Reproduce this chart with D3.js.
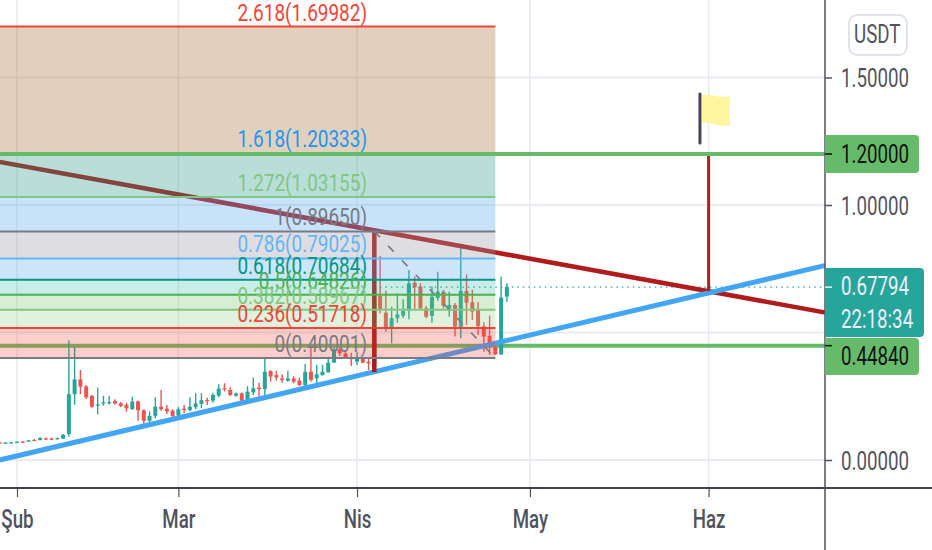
<!DOCTYPE html>
<html>
<head>
<meta charset="utf-8">
<script src="https://cdn.jsdelivr.net/npm/d3@7"></script>
<style>
  body { margin: 0; background: #fff; }
  text { font-family: Roboto, sans-serif; }
</style>
</head>
<body>
<div id="chart"></div>
<script>
var svgWidth = 932;
var svgHeight = 550;
var plotRight = 825;
var plotBottom = 488;

// daily candles, 29 Jan to 27 Apr
var startDay = "2019-01-29";
var opens = [.069,.066,.068,
  .070,.072,.072,.079,.078,.085,.084,.082,.084,.102,
  .258,.316,.288,.251,.213,.221,.224,.231,.222,.216,
  .200,.230,.195,.154,.173,.209,.201,.193,
  .175,.201,.196,.207,.220,.235,.233,.252,.281,.275,
  .252,.261,.235,.265,.284,.278,.349,.333,.320,.311,
  .320,.311,.294,.346,.320,.333,.344,.382,.434,.418,.400,
  .386,.396,.385,.379,.643,.578,.520,.556,.566,.585,
  .695,.680,.595,.565,.635,.660,.595,.608,.520,.663,
  .618,.588,.525,.487,.444,.414,.641];
var closes = [.067,.068,.069,
  .071,.071,.077,.078,.086,.083,.082,.086,.099,.258,
  .316,.288,.246,.209,.218,.226,.227,.222,.212,.203,
  .229,.195,.154,.173,.209,.199,.191,.173,
  .199,.196,.209,.222,.235,.232,.255,.280,.277,.255,
  .261,.233,.268,.281,.278,.346,.327,.324,.314,.320,
  .307,.294,.346,.314,.336,.346,.382,.434,.418,.403,.395,
  .399,.382,.379,.640,.588,.520,.556,.571,.585,.693,
  .677,.595,.562,.640,.660,.605,.608,.523,.663,.617,
  .582,.525,.484,.444,.414,.637,.678];
var highs = [.071,.070,.072,
  .074,.075,.079,.082,.089,.088,.088,.088,.102,.469,
  .444,.353,.294,.255,.284,.252,.251,.238,.227,.225,
  .248,.232,.199,.191,.246,.275,.216,.199,
  .207,.216,.246,.262,.262,.244,.264,.297,.301,.285,
  .265,.265,.290,.324,.303,.399,.352,.350,.336,.350,
  .329,.323,.376,.442,.373,.373,.405,.443,.443,.425,.420,
  .425,.405,.402,.700,.800,.664,.601,.654,.630,.745,
  .720,.693,.604,.680,.738,.667,.660,.616,.830,.728,
  .667,.620,.540,.566,.464,.719,.693];
var lows = [.065,.064,.066,
  .067,.068,.071,.075,.077,.078,.078,.080,.082,.091,
  .216,.258,.239,.205,.179,.213,.218,.218,.207,.189,
  .196,.154,.141,.144,.163,.193,.180,.166,
  .170,.183,.191,.199,.203,.216,.225,.246,.269,.251,
  .248,.229,.229,.255,.246,.255,.307,.311,.303,.307,
  .301,.290,.290,.307,.301,.331,.342,.380,.408,.396,.369,
  .373,.380,.353,.360,.575,.503,.458,.538,.556,.552,
  .588,.591,.556,.538,.625,.595,.562,.484,.477,.529,
  .549,.490,.425,.412,.412,.412,.621];

// fibonacci levels
var fibRatios = ["2.618","1.618","1.272","1","0.786","0.618","0.5","0.382","0.236","0"];
var fibPrices = ["1.69982","1.20333","1.03155","0.89650","0.79025","0.70684","0.64826","0.58967","0.51718","0.40001"];
var fibStart = "2019-01-20";
var fibEnd = "2019-04-25";
var fibAnchor = "2019-04-04";

// hand drawn lines: [start date, start price, end date, end price]
var blueTrend = ["2019-01-29", 0.000, "2019-06-22", 0.767];
var redTrend = ["2019-01-29", 1.169, "2019-06-22", 0.575];
var targetDate = "2019-06-01";
var targetPrices = [1.2, 0.662];
var supportPrices = [1.2, 0.4484];
var lastPrice = 0.67794;
var flagDate = "2019-05-30T12:00Z";
var flagPrice = 1.243;

// axes
var priceTicks = [0, 0.5, 1, 1.5];
var priceTickLabels = ["0.00000", "1.00000", "1.50000"];
var monthStarts = ["2019-02-01", "2019-03-01", "2019-04-01", "2019-05-01", "2019-06-01"];
var monthLabels = ["Şub", "Mar", "Nis", "May", "Haz"];

// the reference type is tall and narrow
var narrow = 0.72;

var parseDay = s => new Date(s.length > 10 ? s : s + "T00:00Z");

var xScale = d3.scaleUtc()
  .domain([parseDay("2019-02-01"), parseDay("2019-06-01")])
  .range([17, 708.6]);

var yScale = d3.scaleLinear()
  .domain([0, 1.5])
  .range([460, 77.5]);

var svg = d3.select("#chart")
  .append("svg")
  .attr("width", svgWidth)
  .attr("height", svgHeight)
  .style("display", "block");

svg.append("clipPath").attr("id", "plot")
  .append("rect").attr("width", plotRight).attr("height", plotBottom);

var plot = svg.append("g").attr("clip-path", "url(#plot)");

// grid
plot.selectAll(".hgrid").data(priceTicks).enter().append("line")
  .attr("x1", 0).attr("x2", plotRight)
  .attr("y1", d => yScale(d)).attr("y2", d => yScale(d))
  .attr("stroke", "#e9ecf0").attr("stroke-width", 2);

plot.selectAll(".vgrid").data(monthStarts).enter().append("line")
  .attr("x1", d => xScale(parseDay(d))).attr("x2", d => xScale(parseDay(d)))
  .attr("y1", 0).attr("y2", plotBottom)
  .attr("stroke", "#e6ebf2").attr("stroke-width", 1.5);

// last price dotted line
plot.append("line")
  .attr("x1", xScale(parseDay(fibAnchor))).attr("x2", plotRight)
  .attr("y1", yScale(lastPrice)).attr("y2", yScale(lastPrice))
  .attr("stroke", "#26a69a").attr("stroke-width", 1.2)
  .attr("stroke-dasharray", "1.5,4");

// the lower support line sits under the fib fill
plot.append("line")
  .attr("x1", 0).attr("x2", plotRight)
  .attr("y1", yScale(supportPrices[1])).attr("y2", yScale(supportPrices[1]))
  .attr("stroke", "#66bb6a").attr("stroke-width", 4);

// candles
var candleData = opens.map((o, i) => ({
  date: d3.utcDay.offset(parseDay(startDay), i),
  open: o, close: closes[i], high: highs[i], low: lows[i]
}));
var candleColor = d => d.close >= d.open ? "#26a69a" : "#ef5350";

var candles = plot.append("g").selectAll("g").data(candleData).enter().append("g");

candles.append("line")
  .attr("x1", d => xScale(d.date)).attr("x2", d => xScale(d.date))
  .attr("y1", d => yScale(d.high)).attr("y2", d => yScale(d.low))
  .attr("stroke", candleColor).attr("stroke-width", 1.4);

candles.append("rect")
  .attr("x", d => xScale(d.date) - 2)
  .attr("width", 4)
  .attr("y", d => yScale(Math.max(d.open, d.close)))
  .attr("height", d => Math.max(1.2, Math.abs(yScale(d.open) - yScale(d.close))))
  .attr("fill", candleColor);

// trend lines
function drawTrend(t, color, w) {
  plot.append("line")
    .attr("x1", xScale(parseDay(t[0]))).attr("y1", yScale(t[1]))
    .attr("x2", xScale(parseDay(t[2]))).attr("y2", yScale(t[3]))
    .attr("stroke", color).attr("stroke-width", w);
}
drawTrend(redTrend, "#b01c1c", 4.6);
drawTrend(blueTrend, "#42a5f5", 5);

// vertical marker from the fib top down to the trend line
plot.append("line")
  .attr("x1", xScale(parseDay(fibAnchor))).attr("x2", xScale(parseDay(fibAnchor)))
  .attr("y1", yScale(+fibPrices[3])).attr("y2", yScale(0.345))
  .attr("stroke", "#a81818").attr("stroke-width", 4.5);

// fib zones and lines
var zoneColors = ["rgba(164,112,52,.33)", "rgba(44,155,138,.33)", "rgba(89,169,238,.33)",
  "rgba(155,155,166,.33)", "rgba(100,175,235,.33)", "rgba(60,185,165,.28)",
  "rgba(110,195,100,.28)", "rgba(130,205,120,.25)", "rgba(244,67,54,.26)"];
var fibColors = ["#f44336", "#2196f3", "#81c784", "#787b86", "#64b5f6",
  "#009688", "#4caf50", "#81c784", "#f44336", "#787b86"];

var fibX0 = xScale(parseDay(fibStart));
var fibX1 = xScale(parseDay(fibEnd));

plot.selectAll(".zone").data(zoneColors).enter().append("rect")
  .attr("x", fibX0).attr("width", fibX1 - fibX0)
  .attr("y", (d, i) => yScale(+fibPrices[i]))
  .attr("height", (d, i) => yScale(+fibPrices[i + 1]) - yScale(+fibPrices[i]))
  .attr("fill", d => d);

plot.selectAll(".fibline").data(fibPrices).enter().append("line")
  .attr("x1", fibX0).attr("x2", fibX1)
  .attr("y1", d => yScale(+d)).attr("y2", d => yScale(+d))
  .attr("stroke", (d, i) => fibColors[i]).attr("stroke-width", 2);

// dashed diagonal of the fib tool
plot.append("line")
  .attr("x1", xScale(parseDay(fibAnchor))).attr("y1", yScale(+fibPrices[3]))
  .attr("x2", fibX1).attr("y2", yScale(+fibPrices[9]))
  .attr("stroke", "#787b86").attr("stroke-width", 1.6)
  .attr("stroke-dasharray", "8,12");

plot.selectAll(".fiblabel").data(fibPrices).enter().append("text")
  .attr("transform", d => `translate(367, ${yScale(+d) - 6}) scale(0.79, 1)`)
  .attr("text-anchor", "end")
  .attr("font-size", 24)
  .attr("fill", (d, i) => fibColors[i])
  .text((d, i) => `${fibRatios[i]}(${d})`);

// target line and upper support go on top
plot.append("line")
  .attr("x1", xScale(parseDay(targetDate))).attr("x2", xScale(parseDay(targetDate)))
  .attr("y1", yScale(targetPrices[0])).attr("y2", yScale(targetPrices[1]))
  .attr("stroke", "#b71c1c").attr("stroke-width", 3);

plot.append("line")
  .attr("x1", 0).attr("x2", plotRight)
  .attr("y1", yScale(supportPrices[0])).attr("y2", yScale(supportPrices[0]))
  .attr("stroke", "#66bb6a").attr("stroke-width", 4);

// flag
var flag = plot.append("g")
  .attr("transform", `translate(${xScale(parseDay(flagDate))}, ${yScale(flagPrice)})`);
flag.append("path")
  .attr("d", "M2,-48 C10,-50 18,-44 30,-47 L30,-18 C20,-15 10,-22 2,-20 Z")
  .attr("fill", "#fff59d");
flag.append("line")
  .attr("x1", 0).attr("x2", 0).attr("y1", -49).attr("y2", 0)
  .attr("stroke", "#434656").attr("stroke-width", 3).attr("stroke-linecap", "round");

// bottom axis
var bottomAxis = d3.axisBottom(xScale)
  .tickValues(monthStarts.map(parseDay))
  .tickFormat((d, i) => monthLabels[i])
  .tickSize(9)
  .tickPadding(10);

var xAxis = svg.append("g")
  .attr("transform", `translate(0, ${plotBottom})`)
  .call(bottomAxis);
xAxis.select(".domain").remove();
xAxis.selectAll("line").attr("stroke", "#50535e").attr("stroke-width", 1.2);
xAxis.selectAll("text")
  .attr("font-size", 26)
  .attr("font-family", "Roboto")
  .attr("font-weight", 500)
  .attr("fill", "#50535e")
  .attr("y", 0)
  .attr("dy", 0)
  .attr("transform", `translate(0, 40) scale(${narrow}, 1)`);

svg.append("line")
  .attr("x1", 0).attr("x2", svgWidth)
  .attr("y1", plotBottom).attr("y2", plotBottom)
  .attr("stroke", "#3f424c").attr("stroke-width", 2);

// price axis
var rightAxis = d3.axisRight(yScale)
  .tickValues([0, 1, 1.5])
  .tickFormat((d, i) => priceTickLabels[i])
  .tickSize(7)
  .tickPadding(9);

var yAxis = svg.append("g")
  .attr("transform", `translate(${plotRight}, 0)`)
  .call(rightAxis);
yAxis.select(".domain").remove();
yAxis.selectAll("line").attr("stroke", "#50535e").attr("stroke-width", 1.5);
yAxis.selectAll("text")
  .attr("font-size", 26)
  .attr("font-family", "Roboto")
  .attr("fill", "#50535e")
  .attr("x", 0)
  .attr("dy", "0.36em")
  .attr("transform", `translate(16, 0) scale(${narrow}, 1)`);

svg.append("line")
  .attr("x1", plotRight).attr("x2", plotRight)
  .attr("y1", 0).attr("y2", svgHeight)
  .attr("stroke", "#50535e").attr("stroke-width", 1.5);

// price tags
function priceTag(price, top, bottom, right, color, textColor, labels) {
  svg.append("path")
    .attr("d", `M${plotRight},${top} H${right - 4} Q${right},${top} ${right},${top + 4} V${bottom - 4} Q${right},${bottom} ${right - 4},${bottom} H${plotRight} Z`)
    .attr("fill", color);
  svg.append("line")
    .attr("x1", plotRight).attr("x2", plotRight + 7)
    .attr("y1", yScale(price)).attr("y2", yScale(price))
    .attr("stroke", textColor).attr("stroke-width", 1.5);
  labels.forEach(function(l) {
    svg.append("text")
      .attr("transform", `translate(841, ${l.y}) scale(${narrow}, 1)`)
      .attr("font-size", 26)
      .attr("fill", textColor)
      .text(l.t);
  });
}
priceTag(1.2, 135, 173, 919, "#66bb6a", "#111", [{t: "1.20000", y: 163}]);
priceTag(lastPrice, 268, 337, 924, "#26a69a", "#eef", [
  {t: "0.67794", y: 295},
  {t: "22:18:34", y: 328}
]);
priceTag(0.4484, 338, 375, 919, "#66bb6a", "#111", [{t: "0.44840", y: 365}]);

// currency button
svg.append("rect")
  .attr("x", 849).attr("y", 15).attr("width", 58).attr("height", 40).attr("rx", 8)
  .attr("fill", "#fff").attr("stroke", "#e0e3eb").attr("stroke-width", 2);
svg.append("text")
  .attr("transform", `translate(854, 43) scale(${narrow}, 1)`)
  .attr("font-size", 26)
  .attr("fill", "#50535e")
  .text("USDT");
</script>
</body>
</html>
